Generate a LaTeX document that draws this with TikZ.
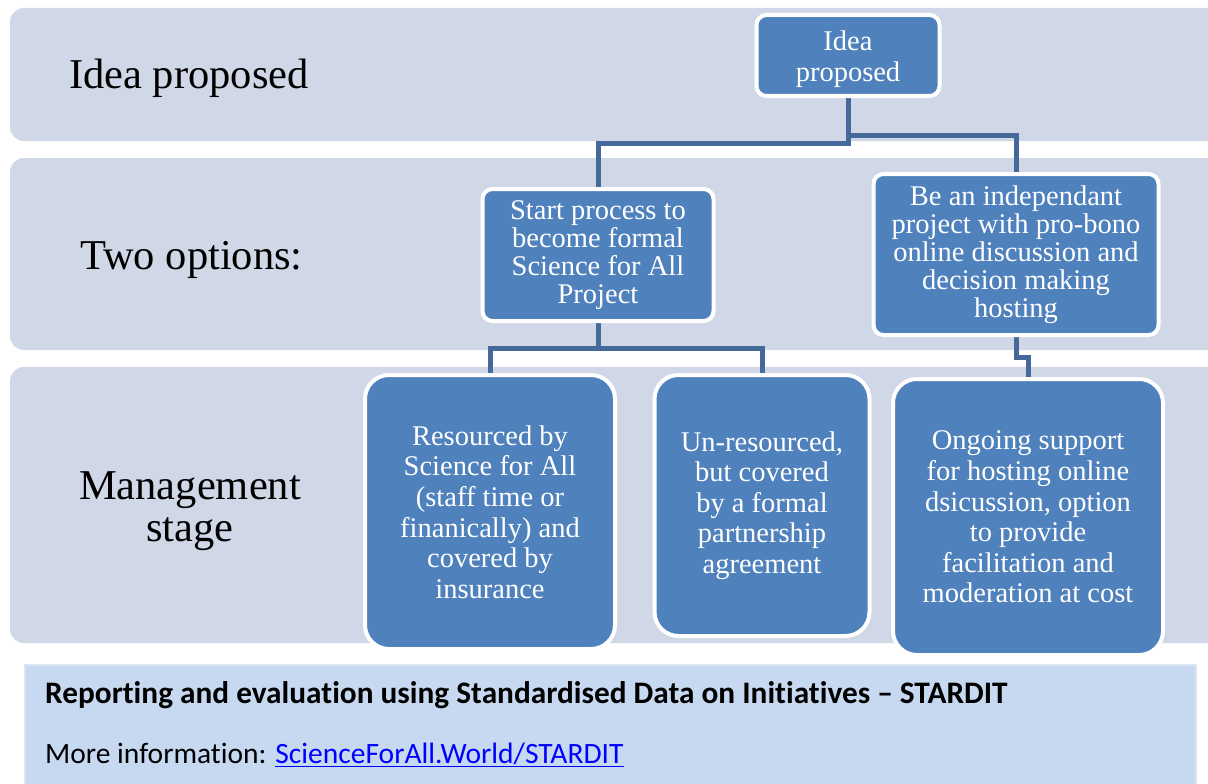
\documentclass[tikz,border=0pt]{standalone}
\usepackage{fontspec}
\setmainfont{Liberation Serif}
\newfontfamily\calfont[Ligatures={TeX,NoCommon}]{Carlito}
\usetikzlibrary{calc}
\pgfdeclarelayer{bg}
\pgfdeclarelayer{mid}
\pgfsetlayers{bg,mid,main}
\definecolor{bandcol}{HTML}{D0D8E8}
\definecolor{boxblue}{HTML}{4F81BD}
\definecolor{linecol}{HTML}{44699A}
\definecolor{footfill}{HTML}{C6D9F1}
\definecolor{footline}{HTML}{DCE6F2}
\definecolor{linkblue}{HTML}{0000FF}
\tikzset{
  band/.style={fill=bandcol, rounded corners=14pt},
  box/.style={draw=white, line width=4pt, fill=boxblue, rounded corners=10pt, text=white, align=center, inner sep=0pt, font=\fontsize{28.5}{28}\selectfont},
  tallbox/.style={box, rounded corners=24pt, font=\fontsize{28.5}{30.6}\selectfont},
  lab/.style={font=\fontsize{42.5}{42}\selectfont, align=center, inner sep=0pt},
  conn/.style={draw=linecol, line width=5pt},
  foot/.style={font=\calfont\fontsize{29.5}{32}\selectfont, anchor=west, inner sep=0pt}
}
\begin{document}
\begin{tikzpicture}[x=1pt,y=-1pt]
\useasboundingbox (0,0) rectangle (1208,784);
\begin{pgfonlayer}{bg}
\fill[band] (10,8) rectangle (1230,141);
\fill[band] (10,158) rectangle (1230,350);
\fill[band] (10,367) rectangle (1230,643);
\draw[fill=footfill, draw=footline, line width=1.5pt] (25,665) rectangle (1196,800);
\end{pgfonlayer}
% left labels
\node[lab, anchor=west] (l1) at (69,78) {Idea proposed};
\node[lab, anchor=west] (l2) at (80,260) {Two options:};
\node[lab] (l3) at (190,511) {Management\\stage};
% boxes
\node[box, minimum width=183pt, minimum height=81pt, font=\fontsize{28.5}{31}\selectfont] (idea) at (848,55.5) {\rule{0pt}{27pt}Idea\\proposed};
\node[box, minimum width=231pt, minimum height=132pt] (start) at (598,255) {Start process to\\become formal\\Science for All\\Project};
\node[box, minimum width=285pt, minimum height=161pt] (indep) at (1016,254.5) {Be an independant\\project with pro-bono\\online discussion and\\decision making\\hosting};
\node[tallbox, minimum width=250pt, minimum height=274pt] (res) at (490,512) {Resourced by\\Science for All\\(staff time or\\finanically) and\\covered by\\insurance};
\node[tallbox, minimum width=215pt, minimum height=261pt] (unres) at (762,505.5) {Un-resourced,\\but covered\\by a formal\\partnership\\agreement};
\node[tallbox, minimum width=270pt, minimum height=276pt] (ongo) at (1028,517) {Ongoing support\\for hosting online\\dsicussion, option\\to provide\\facilitation and\\moderation at cost};
% connectors
\begin{pgfonlayer}{mid}
\draw[conn] (idea.south) -- (848,143) -| (start.north);
\draw[conn] (848,135) -| (indep.north);
\draw[conn] (start.south) -- (598,348) -| (res.north);
\draw[conn] (598,348) -| (unres.north);
\draw[conn] (indep.south) -- (1016,357) -| (ongo.north);
\end{pgfonlayer}
% footer text
\node[foot, font=\calfont\bfseries\fontsize{31.3}{32}\selectfont] (f1) at (45,695) {Reporting and evaluation using Standardised Data on Initiatives – STARDIT};
\node[foot] (f2) at (45,755) {More information: \textcolor{linkblue}{\underline{ScienceForAll.World/STARDIT}}};
\end{tikzpicture}
\end{document}
